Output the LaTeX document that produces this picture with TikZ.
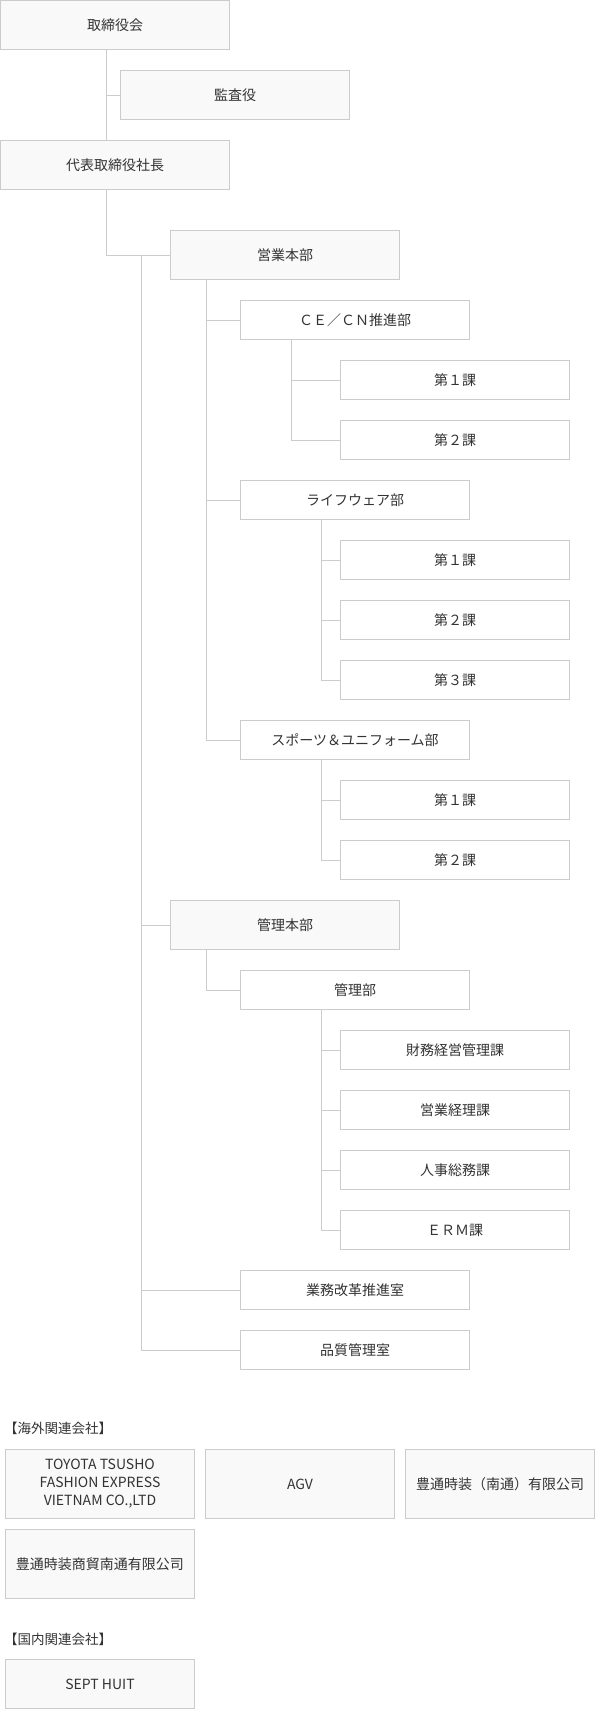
\documentclass[tikz,border=0pt]{standalone}
\usepackage{fontspec}
\setmainfont{Noto Sans CJK JP}
\definecolor{lnc}{HTML}{CCCCCC}
\definecolor{fillg}{HTML}{F9F9F9}
\definecolor{txt}{HTML}{333333}
\begin{document}
\begin{tikzpicture}[x=1pt,y=-1pt,
  box/.style={draw=lnc,line width=1pt,rectangle,inner sep=0pt,align=center,text=txt,
    font=\fontsize{14}{18}\selectfont},
  bigbox/.style={box,fill=fillg,minimum width=229pt,minimum height=49pt},
  subbox/.style={box,fill=white,minimum width=229pt,minimum height=39pt},
  cobox/.style={box,fill=fillg,minimum width=189pt,minimum height=69pt},
  cobox2/.style={box,fill=fillg,minimum width=189pt,minimum height=49pt},
  head/.style={anchor=west,inner sep=0pt,text=txt,font=\fontsize{13.5}{16}\selectfont},
  conn/.style={draw=lnc,line width=1pt}
]
\useasboundingbox (0,0) rectangle (595,1709);
% coordinates for trunk lines
\coordinate (t0) at (106,0);
\coordinate (t1) at (141,0);
\coordinate (t2) at (206,0);
\coordinate (t3) at (291,0);
\coordinate (t4) at (321,0);
% top
\node[bigbox] (board) at (115,25) {取締役会};
\node[bigbox] (audit) at (235,95) {監査役};
\node[bigbox] (pres) at (115,165) {代表取締役社長};
\node[bigbox] (sales) at (285,255) {営業本部};
\node[subbox] (cecn) at (355,320) {ＣＥ／ＣＮ推進部};
\node[subbox] (c1) at (455,380) {第１課};
\node[subbox] (c2) at (455,440) {第２課};
\node[subbox] (life) at (355,500) {ライフウェア部};
\node[subbox] (l1) at (455,560) {第１課};
\node[subbox] (l2) at (455,620) {第２課};
\node[subbox] (l3) at (455,680) {第３課};
\node[subbox] (sport) at (355,740) {スポーツ＆ユニフォーム部};
\node[subbox] (s1) at (455,800) {第１課};
\node[subbox] (s2) at (455,860) {第２課};
\node[bigbox] (admhq) at (285,925) {管理本部};
\node[subbox] (adm) at (355,990) {管理部};
\node[subbox] (a1) at (455,1050) {財務経営管理課};
\node[subbox] (a2) at (455,1110) {営業経理課};
\node[subbox] (a3) at (455,1170) {人事総務課};
\node[subbox] (a4) at (455,1230) {ＥＲＭ課};
\node[subbox] (reform) at (355,1290) {業務改革推進室};
\node[subbox] (qual) at (355,1350) {品質管理室};
% connectors
\draw[conn] (board.south -| t0) -- (pres.north -| t0);
\draw[conn] (audit.west -| t0) -- (audit.west);
\draw[conn] (pres.south -| t0) |- (sales.west);
\draw[conn] (sales.west -| t1) |- (qual.west);
\draw[conn] (admhq.west -| t1) -- (admhq.west);
\draw[conn] (reform.west -| t1) -- (reform.west);
\draw[conn] (sales.south -| t2) |- (sport.west);
\draw[conn] (cecn.west -| t2) -- (cecn.west);
\draw[conn] (life.west -| t2) -- (life.west);
\draw[conn] (cecn.south -| t3) |- (c2.west);
\draw[conn] (c1.west -| t3) -- (c1.west);
\draw[conn] (life.south -| t4) |- (l3.west);
\draw[conn] (l1.west -| t4) -- (l1.west);
\draw[conn] (l2.west -| t4) -- (l2.west);
\draw[conn] (sport.south -| t4) |- (s2.west);
\draw[conn] (s1.west -| t4) -- (s1.west);
\draw[conn] (admhq.south -| t2) |- (adm.west);
\draw[conn] (adm.south -| t4) |- (a4.west);
\draw[conn] (a1.west -| t4) -- (a1.west);
\draw[conn] (a2.west -| t4) -- (a2.west);
\draw[conn] (a3.west -| t4) -- (a3.west);
% affiliates
\node[head] (h1) at (4,1428) {【海外関連会社】};
\node[cobox] (co1) at (100,1484) {TOYOTA TSUSHO\\FASHION EXPRESS\\VIETNAM CO.,LTD};
\node[cobox] (co2) at (300,1484) {AGV};
\node[cobox] (co3) at (500,1484) {豊通時装（南通）有限公司};
\node[cobox] (co4) at (100,1564) {豊通時装商貿南通有限公司};
\node[head] (h2) at (4,1639) {【国内関連会社】};
\node[cobox2] (co5) at (100,1684) {SEPT HUIT};
\end{tikzpicture}
\end{document}
